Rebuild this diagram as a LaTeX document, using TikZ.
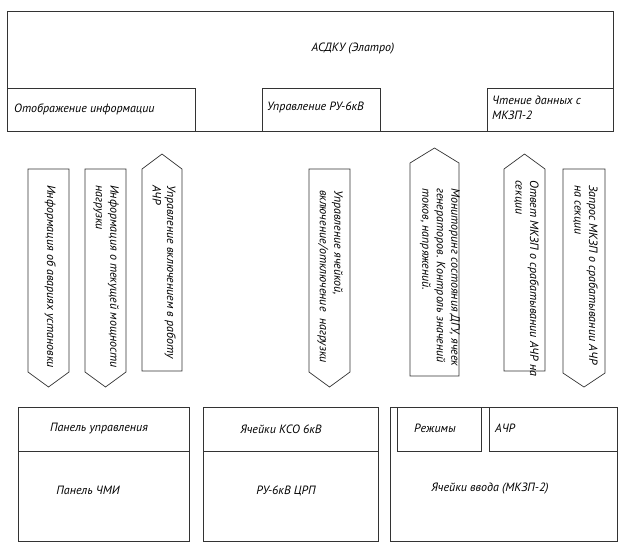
\documentclass[tikz,border=0pt]{standalone}
\usepackage{fontspec}
\setmainfont{PT Sans}
\usetikzlibrary{positioning}

\begin{document}
\begin{tikzpicture}[
    x=1pt, y=-1pt,
    frame/.style={draw=black!80, line width=0.7pt},
    txt/.style={font=\fontsize{12}{14.5}\selectfont\itshape, inner sep=0pt},
    vtxt/.style={txt, rotate=-90, anchor=north west, align=left}
]
\useasboundingbox (0,0) rectangle (624,558);

% Top block
\draw[frame] (7,11) rectangle (613,131);
\node[txt] (asdku) at (353,49) {АСДКУ (Элатро)};

\draw[frame] (7,88) rectangle (195,131);
\node[txt, anchor=west] (display) at (14,109) {Отображение информации};

\draw[frame] (262,88) rectangle (380,131);
\node[txt, anchor=west] (rucontrol) at (267,107) {Управление РУ-6кВ};

\draw[frame] (487,88) rectangle (613,131);
\node[txt, anchor=west, align=left] (reading) at (492,108) {Чтение данных с\\МКЗП-2};

% Arrows
\draw[frame] (28,169) -- (69,169) -- (69,372) -- (48.5,387) -- (28,372) -- cycle;
\node[vtxt] (accident) at (56,185) {Информация об авариях установки};

\draw[frame] (85,169) -- (126,169) -- (126,372) -- (105.5,387) -- (85,372) -- cycle;
\node[vtxt] (power) at (119,185) {Информация о текущей мощности\\нагрузки};

\draw[frame] (142,169) -- (162,154) -- (182,169) -- (182,371) -- (142,371) -- cycle;
\node[vtxt] (achr) at (176,185) {Управление включением в работу\\АЧР};

\draw[frame] (309,169) -- (350,169) -- (350,372) -- (329.5,387) -- (309,372) -- cycle;
\node[vtxt] (cells) at (343,190) {Управление ячейкой,\\включение/отключение~~нагрузки};

\draw[frame] (410,163) -- (434.5,148) -- (459,163) -- (459,376) -- (410,376) -- cycle;
\node[vtxt] (monitor) at (460,188) {Мониторинг состояния ДГУ, ячеек\\генераторов. Контроль значений\\токов, напряжений.};

\draw[frame] (504,169) -- (524.5,154) -- (545,169) -- (545,371) -- (504,371) -- cycle;
\node[vtxt] (answer) at (539,180) {Ответ МКЗП о срабатывании АЧР на\\секции};

\draw[frame] (563,169) -- (605,169) -- (605,373) -- (584,387) -- (563,373) -- cycle;
\node[vtxt] (request) at (598,185) {Запрос МКЗП о срабатывании АЧР\\на секции};

% Bottom blocks
\draw[frame] (18,407) rectangle (189,541);
\draw[frame] (18,407) rectangle (189,451);
\node[txt] (panel) at (99,429) {Панель управления};
\node[txt] (hmi) at (88,490) {Панель ЧМИ};

\draw[frame] (203,407) rectangle (378,541);
\draw[frame] (203,407) rectangle (378,451);
\node[txt] (kso) at (281,429) {Ячейки КСО 6кВ};
\node[txt] (crp) at (286,491) {РУ-6кВ ЦРП};

\draw[frame] (390,407) rectangle (617,541);
\draw[frame] (397,407) rectangle (481,451);
\draw[frame] (489,407) rectangle (617,451);
\node[txt] (modes) at (435,428) {Режимы};
\node[txt, anchor=west] (achrbox) at (495,428) {АЧР};
\node[txt] (input) at (490,489) {Ячейки ввода (МКЗП-2)};

\end{tikzpicture}
\end{document}
